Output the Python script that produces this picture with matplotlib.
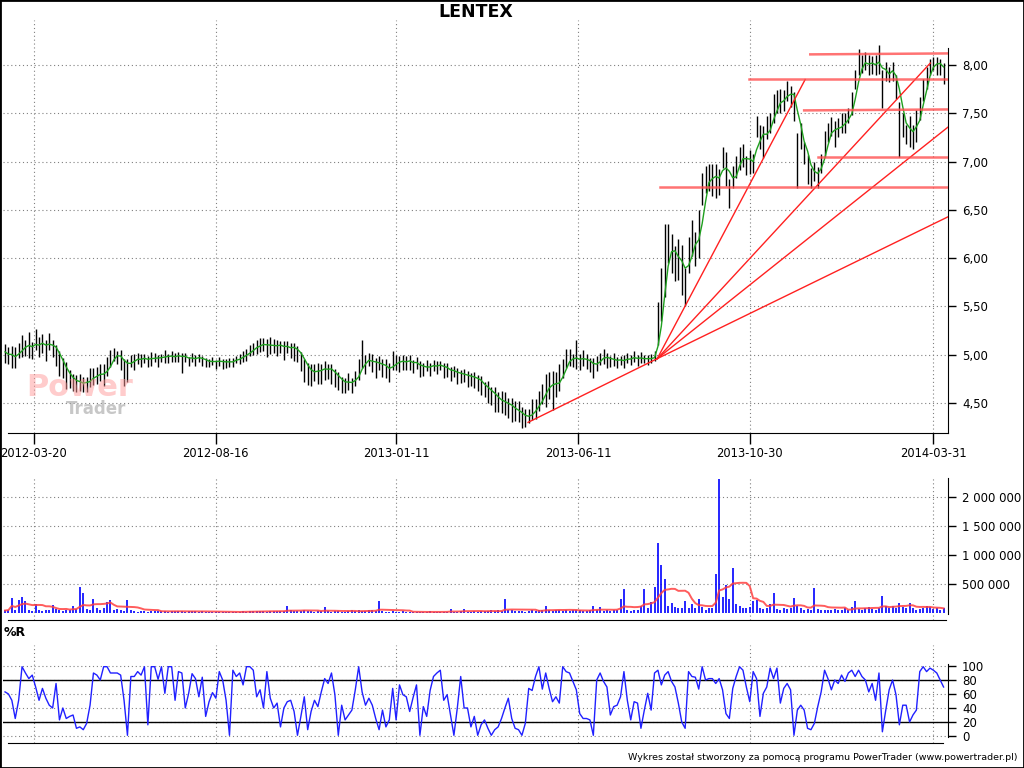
import matplotlib
matplotlib.use("Agg")
import matplotlib.pyplot as plt
from matplotlib.patches import Rectangle
import numpy as np
import pandas as pd

# one bar = two sessions, starting 2012-02-24
close = [
    5.03, 4.98, 5.00, 4.96, 5.06, 5.10, 5.07, 5.12, 5.06, 5.14,
    5.10, 5.12, 5.08, 5.13, 5.09, 5.02, 4.94, 4.88, 4.80, 4.76,
    4.74, 4.70, 4.73, 4.69, 4.72, 4.76, 4.79, 4.78, 4.82, 4.80,
    4.86, 4.97, 5.01, 4.99, 4.96, 4.88, 4.90, 4.95, 4.94, 4.97,
    4.95, 4.97, 4.94, 4.97, 4.98, 4.95, 4.98, 5.00, 4.97, 4.99,
    4.98, 5.00, 4.97, 4.98, 4.95, 4.97, 4.96, 4.98, 4.95, 4.92,
    4.93, 4.94, 4.92, 4.94, 4.93, 4.91, 4.94, 4.93, 4.96, 4.97,
    4.99, 5.02, 5.04, 5.07, 5.11, 5.09, 5.12, 5.10, 5.08, 5.11,
    5.09, 5.10, 5.07, 5.09, 5.06, 5.08, 5.03, 4.95, 4.90, 4.84,
    4.80, 4.83, 4.86, 4.82, 4.88, 4.85, 4.83, 4.79, 4.74, 4.72,
    4.70, 4.73, 4.71, 4.76, 4.84, 4.95, 4.92, 4.96, 4.92, 4.90,
    4.93, 4.88, 4.86, 4.84, 4.92, 4.94, 4.91, 4.95, 4.92, 4.94,
    4.90, 4.92, 4.87, 4.86, 4.89, 4.87, 4.90, 4.88, 4.90, 4.86,
    4.85, 4.82, 4.84, 4.80, 4.79, 4.81, 4.77, 4.76, 4.78, 4.73,
    4.70, 4.66, 4.64, 4.60, 4.57, 4.53, 4.50, 4.52, 4.47, 4.45,
    4.43, 4.40, 4.38, 4.34, 4.37, 4.42, 4.45, 4.52, 4.58, 4.66,
    4.72, 4.68, 4.70, 4.74, 4.86, 4.94, 4.98, 4.95, 4.97, 4.94,
    4.97, 4.95, 4.90, 4.88, 4.93, 4.97, 4.99, 4.96, 4.94, 4.96,
    4.93, 4.95, 4.94, 4.97, 4.96, 4.98, 4.95, 4.97, 4.96, 4.95,
    4.97, 4.99, 5.30, 5.60, 5.95, 6.20, 6.05, 5.98, 6.02, 5.92,
    5.75, 6.10, 6.20, 6.12, 6.25, 6.70, 6.80, 6.85, 6.82, 6.87,
    6.80, 7.05, 6.95, 6.70, 6.85, 6.98, 7.03, 7.08, 6.98, 7.02,
    7.00, 7.35, 7.28, 7.22, 7.35, 7.40, 7.55, 7.62, 7.65, 7.62,
    7.75, 7.72, 7.62, 7.25, 7.28, 7.10, 6.95, 6.85, 6.90, 6.88,
    7.00, 7.20, 7.30, 7.38, 7.30, 7.35, 7.42, 7.40, 7.48, 7.60,
    7.85, 8.02, 8.00, 8.05, 7.98, 8.03, 8.00, 8.06, 7.85, 7.95,
    7.92, 7.95, 7.80, 7.50, 7.40, 7.30, 7.35, 7.28, 7.45, 7.55,
    7.75, 7.90, 8.00, 8.03, 8.00, 8.02, 7.92,
]

# high above close / low below close, in grosze
up = [
    8, 10, 9, 12, 6, 10, 8, 12, 7, 13,
    8, 9, 7, 10, 6, 8, 10, 9, 12, 8,
    6, 9, 7, 8, 5, 10, 7, 9, 8, 10,
    12, 8, 6, 5, 9, 8, 6, 5, 7, 5,
    6, 4, 5, 6, 4, 5, 3, 5, 4, 5,
    4, 3, 5, 4, 3, 5, 4, 3, 4, 5,
    3, 4, 3, 4, 3, 5, 3, 4, 3, 4,
    5, 4, 6, 5, 4, 8, 5, 6, 10, 5,
    6, 4, 7, 5, 6, 4, 6, 8, 6, 7,
    10, 7, 5, 8, 6, 5, 7, 6, 8, 5,
    6, 8, 5, 7, 12, 20, 8, 6, 9, 7,
    6, 8, 10, 7, 12, 6, 8, 5, 7, 6,
    5, 6, 7, 5, 6, 4, 5, 6, 4, 5,
    6, 5, 4, 6, 5, 4, 6, 5, 4, 6,
    8, 6, 9, 7, 10, 8, 12, 9, 8, 10,
    9, 12, 8, 10, 7, 12, 9, 10, 12, 14,
    10, 15, 12, 16, 10, 12, 8, 6, 18, 7,
    8, 6, 7, 9, 6, 5, 7, 6, 5, 6,
    5, 4, 6, 5, 4, 6, 5, 6, 4, 5,
    4, 5, 25, 30, 40, 15, 20, 15, 18, 22,
    15, 12, 20, 15, 25, 18, 15, 12, 15, 10,
    12, 10, 15, 12, 10, 8, 12, 10, 8, 10,
    8, 12, 10, 15, 12, 10, 15, 12, 10, 12,
    8, 6, 10, 5, 12, 10, 12, 8, 10, 6,
    8, 12, 10, 8, 12, 10, 8, 10, 8, 12,
    10, 15, 10, 8, 12, 6, 10, 15, 10, 8,
    6, 8, 10, 12, 10, 8, 12, 10, 8, 12,
    10, 8, 6, 5, 8, 4, 10,
]
dn = [
    12, 8, 14, 10, 9, 12, 8, 15, 10, 9,
    12, 10, 14, 8, 11, 14, 16, 12, 15, 10,
    12, 9, 10, 8, 11, 9, 10, 8, 9, 12,
    8, 10, 7, 9, 12, 20, 18, 8, 10, 7,
    8, 6, 7, 9, 6, 8, 5, 9, 6, 7,
    6, 8, 16, 6, 7, 5, 8, 6, 7, 5,
    6, 5, 7, 6, 8, 5, 7, 6, 5, 7,
    6, 8, 5, 7, 10, 6, 8, 12, 7, 9,
    10, 8, 12, 7, 9, 14, 10, 12, 18, 15,
    12, 10, 16, 12, 14, 10, 13, 12, 10, 12,
    10, 9, 11, 8, 10, 9, 12, 8, 10, 14,
    9, 11, 10, 12, 8, 10, 9, 11, 8, 10,
    9, 7, 10, 8, 6, 9, 7, 8, 6, 10,
    8, 9, 7, 10, 8, 9, 10, 8, 12, 10,
    12, 10, 14, 12, 16, 12, 10, 14, 12, 15,
    12, 10, 14, 9, 8, 10, 12, 10, 9, 20,
    18, 25, 14, 12, 10, 8, 10, 8, 12, 10,
    9, 10, 8, 12, 10, 8, 9, 10, 7, 8,
    7, 6, 8, 6, 7, 5, 7, 6, 5, 6,
    6, 5, 20, 25, 35, 25, 20, 22, 25, 30,
    25, 25, 18, 20, 25, 15, 12, 15, 18, 25,
    15, 12, 20, 18, 12, 15, 12, 14, 12, 15,
    12, 10, 15, 18, 12, 10, 15, 12, 15, 10,
    12, 15, 20, 52, 15, 12, 18, 12, 10, 15,
    12, 15, 10, 12, 15, 10, 12, 10, 8, 12,
    10, 12, 8, 10, 8, 12, 10, 15, 30, 12,
    10, 12, 15, 45, 15, 12, 20, 15, 25, 12,
    12, 15, 10, 8, 10, 12, 12,
]

# volume, thousands of shares
volume_k = [
    45, 60, 267, 50, 227, 284, 216, 55, 40, 160,
    50, 35, 60, 45, 142, 70, 55, 40, 60, 50,
    114, 65, 455, 352, 70, 55, 245, 80, 60, 90,
    193, 227, 60, 75, 50, 40, 227, 45, 30, 25,
    30, 35, 25, 40, 30, 28, 35, 30, 25, 30,
    28, 35, 30, 25, 32, 28, 30, 25, 35, 20,
    18, 25, 20, 15, 22, 18, 25, 20, 15, 25,
    30, 25, 35, 28, 40, 30, 35, 25, 30, 35,
    30, 40, 35, 114, 45, 30, 35, 40, 55, 30,
    35, 25, 30, 40, 97, 30, 25, 35, 30, 20,
    25, 30, 45, 35, 55, 40, 30, 45, 60, 35,
    210, 30, 25, 20, 35, 25, 20, 30, 15, 20,
    15, 20, 25, 18, 15, 30, 20, 25, 18, 20,
    25, 74, 20, 25, 30, 74, 25, 20, 30, 25,
    35, 40, 30, 45, 35, 55, 40, 245, 50, 45,
    30, 40, 35, 25, 40, 45, 30, 55, 60, 125,
    50, 40, 55, 45, 30, 60, 40, 50, 45, 55,
    40, 35, 45, 125, 50, 108, 40, 50, 35, 45,
    60, 240, 410, 50, 40, 55, 60, 130, 415, 90,
    190, 445, 1210, 825, 586, 130, 170, 110, 80, 95,
    210, 90, 160, 85, 245, 100, 60, 80, 95, 670,
    2310, 280, 485, 245, 775, 160, 120, 90, 80, 110,
    215, 225, 90, 70, 80, 160, 340, 75, 60, 85,
    70, 90, 260, 120, 80, 60, 70, 55, 430, 65,
    50, 45, 60, 55, 70, 45, 60, 80, 55, 110,
    210, 70, 60, 80, 100, 75, 60, 90, 296, 120,
    80, 130, 90, 170, 110, 95, 170, 80, 60, 75,
    90, 120, 100, 70, 85, 60, 85,
]

# Williams %R as shown in the lower panel
pct_r = [
    63, 60, 51, 25, 51, 99, 90, 82, 87, 70,
    51, 68, 54, 44, 40, 75, 23, 40, 25, 28,
    30, 11, 13, 9, 18, 44, 90, 87, 80, 99,
    99, 90, 90, 90, 87, 51, 1, 85, 85, 92,
    87, 99, 16, 99, 99, 81, 99, 61, 99, 99,
    51, 92, 90, 40, 61, 89, 82, 56, 84, 28,
    49, 62, 54, 92, 80, 51, 1, 94, 85, 90,
    73, 99, 99, 94, 56, 66, 40, 92, 54, 40,
    47, 13, 40, 49, 51, 35, 1, 28, 56, 9,
    35, 51, 42, 63, 82, 75, 90, 59, 1, 44,
    23, 30, 37, 66, 99, 63, 44, 54, 44, 25,
    9, 37, 13, 23, 68, 23, 73, 59, 56, 35,
    55, 73, 1, 42, 28, 65, 85, 90, 94, 51,
    59, 30, 1, 40, 85, 40, 40, 13, 28, 1,
    16, 23, 11, 1, 9, 13, 25, 40, 54, 25,
    11, 9, 1, 18, 68, 65, 85, 99, 67, 90,
    68, 49, 56, 47, 99, 92, 90, 78, 66, 32,
    25, 25, 23, 1, 80, 90, 78, 70, 30, 42,
    44, 56, 92, 51, 23, 49, 47, 11, 37, 61,
    37, 90, 94, 73, 87, 92, 78, 70, 47, 20,
    11, 92, 85, 84, 67, 99, 80, 82, 82, 75,
    82, 66, 32, 25, 68, 85, 99, 94, 70, 49,
    92, 82, 28, 61, 70, 97, 82, 97, 47, 68,
    75, 66, 1, 37, 44, 37, 11, 9, 18, 42,
    63, 94, 82, 66, 80, 75, 87, 78, 90, 94,
    85, 94, 85, 80, 63, 75, 51, 90, 6, 37,
    66, 80, 59, 16, 44, 44, 20, 30, 37, 92,
    99, 92, 97, 94, 90, 80, 70,
]

tick_dates = ["2012-03-20", "2012-08-16", "2013-01-11", "2013-06-11", "2013-10-30", "2014-03-31"]
price_ticks = [4.5, 5.0, 5.5, 6.0, 6.5, 7.0, 7.5, 8.0]
vol_ticks = [500000, 1000000, 1500000, 2000000]
wr_ticks = [0, 20, 40, 60, 80, 100]

# drawings on the chart: (bar, price) pairs
fan_base = [(153.8, 4.30), (191.8, 4.96)]
fan_ends = [(235.3, 7.85), (272.1, 8.02), (277.4, 7.36), (277.4, 6.43)]
levels = [((192.6, 6.74), (277.4, 6.74)),
          ((218.8, 7.85), (277.4, 7.85)),
          ((235.0, 7.53), (277.4, 7.54)),
          ((239.1, 7.05), (277.4, 7.05)),
          ((236.8, 8.11), (277.4, 8.12))]

c = np.array(close)
hi = c + np.array(up) / 100
lo = c - np.array(dn) / 100
vol = np.array(volume_k) * 1000.0
wr = np.array(pct_r)
n = len(c)
x = np.arange(n)

days = pd.bdate_range("2012-02-24", periods=2 * n)
tick_pos = days.get_indexer(pd.to_datetime(tick_dates)) / 2

ma = pd.Series(c).rolling(3, min_periods=1).mean()
vma = pd.Series(vol).rolling(10, min_periods=1).mean()

W, H = 1024, 768
fig = plt.figure(figsize=(10.24, 7.68), dpi=100)
fig.patches.append(Rectangle((0, 0), 1, 1, transform=fig.transFigure,
                             fill=False, ec="black", lw=2))

def box(top, bottom):
    return [3 / W, 1 - bottom / H, 945 / W, (bottom - top) / H]

ax1 = fig.add_axes(box(20, 433))
ax2 = fig.add_axes(box(478, 620))
ax3 = fig.add_axes(box(645, 743))

xmin, xmax = -0.6, 277.3
grid = dict(color="#808080", lw=0.8, linestyle=(0, (1, 2.5)))
for ax in (ax1, ax2, ax3):
    ax.set_xlim(xmin, xmax)
    ax.spines["left"].set_visible(False)
    ax.spines["top"].set_visible(False)
    ax.yaxis.tick_right()
    ax.set_xticks(tick_pos)
    ax.grid(True, **grid)
    ax.set_axisbelow(True)
    ax.tick_params(axis="y", length=6, width=1, labelsize=8.5, pad=4)

# price panel
ax1.vlines(x, lo, hi, color="black", lw=1.0, zorder=3)
ax1.plot(x, ma, color="#1fa01f", lw=1, zorder=4)
ax1.plot(*zip(*fan_base), color="#ff2020", lw=1, zorder=5)
for end in fan_ends:
    ax1.plot([fan_base[1][0], end[0]], [fan_base[1][1], end[1]], color="#ff2020", lw=1, zorder=5)
for a, b in levels:
    ax1.plot([a[0], b[0]], [a[1], b[1]], color="#ff5050", lw=1.8, alpha=0.8, zorder=5)
ax1.set_ylim(4.19, 8.466)
ax1.set_yticks(price_ticks)
ax1.set_yticklabels([f"{p:.2f}".replace(".", ",") for p in price_ticks])
ax1.set_xticklabels(tick_dates)
ax1.tick_params(axis="x", length=8, width=1, labelsize=8.3, pad=2)
ax1.spines["right"].set_bounds(4.19, 8.18)
ax1.spines["bottom"].set_bounds(0.9, xmax)

# watermark
fig.text(80 / W, 1 - 387 / H, "Power", ha="center", va="center", fontsize=22,
         fontweight="bold", color="#ff9a9a", alpha=0.5, zorder=0)
fig.text(96 / W, 1 - 409 / H, "Trader", ha="center", va="center", fontsize=12,
         fontweight="bold", color="#909090", alpha=0.5, zorder=0)

fig.text(476 / W, 1 - 12 / H, "LENTEX", ha="center", va="center",
         fontsize=12.5, fontweight="bold")

# volume panel
ax2.vlines(x, 0, vol, color="#0000ff", lw=1.2, zorder=3)
ax2.plot(x, vma, color="#ff4040", lw=1.4, alpha=0.85, zorder=4)
ax2.set_ylim(-119000, 2330000)
ax2.set_yticks(vol_ticks)
ax2.set_yticklabels([f"{v:,.0f}".replace(",", " ") for v in vol_ticks])
ax2.tick_params(axis="x", length=0, labelbottom=False)
ax2.spines["right"].set_bounds(-20000, 2330000)
ax2.spines["bottom"].set_bounds(0.9, 276.8)

# %R panel
ax3.plot(x, wr, color="#2020ff", lw=1, zorder=4)
for lvl in (80, 20):
    ax3.axhline(lvl, color="black", lw=1, zorder=3)
ax3.set_ylim(-10, 130)
ax3.set_yticks(wr_ticks)
ax3.set_yticklabels([str(t) for t in wr_ticks])
ax3.tick_params(axis="x", length=0, labelbottom=False)
ax3.spines["right"].set_bounds(-1.5, 103)
ax3.spines["bottom"].set_bounds(0.9, 275.9)
fig.text(4 / W, 1 - 632 / H, "%R", ha="left", va="center", fontsize=9, fontweight="bold")

fig.text(1017 / W, 1 - 757 / H,
         "Wykres został stworzony za pomocą programu PowerTrader (www.powertrader.pl)",
         ha="right", va="center", fontsize=6.8)

fig.savefig("out.png", dpi=100)
